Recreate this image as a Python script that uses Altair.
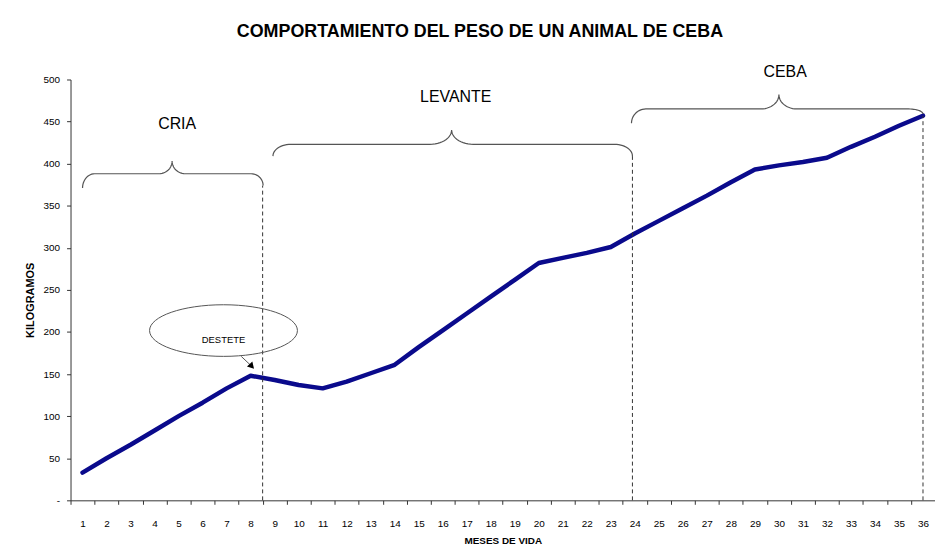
import math
import altair as alt
import pandas as pd

# ---- data ----
months = list(range(1, 37))
weights = [33, 50, 66, 83, 100, 116, 133, 148, 143, 137, 133, 141,
           151, 161, 182, 202, 222, 242, 262, 282, 288, 294, 301, 317,
           332, 347, 362, 378, 393, 398, 402, 407, 420, 432, 445, 457]
y_tick_values = list(range(0, 501, 50))

phase_names = ["CRIA", "LEVANTE", "CEBA"]
phase_start = [1.0, 8.93, 23.86]
phase_end = [8.52, 23.9, 36.0]
phase_peak_x = [4.73, 16.37, 30.0]
phase_base_y = [388, 423, 465]
phase_tip_left = [371, 409, 448]
phase_tip_right = [374, 409, 459]
phase_peak_y = [403, 440, 482]
phase_end_curve = [0.5, 0.75, 0.6]
phase_mid_curve = [0.55, 0.9, 0.75]
phase_label_x = [4.94, 16.54, 30.26]
phase_label_y = [447, 479, 509]

cut_x = [8.5, 23.9, 36.0]
cut_top = [374, 409, 457]

note_text = ["DESTETE"]
note_x = [6.87]
note_y = [201.7]
note_text_y = [191]
arrow_from = [(7.61, 171)]
arrow_to = [(8.02, 160)]

# ---- tables ----
df_line = pd.DataFrame({"mes": months, "kg": weights})


def brace(i):
    x0, x1, xp = phase_start[i], phase_end[i], phase_peak_x[i]
    yb, y0, y1, yp = phase_base_y[i], phase_tip_left[i], phase_tip_right[i], phase_peak_y[i]
    de, dm = phase_end_curve[i], phase_mid_curve[i]
    n = 14
    ts = [k * (math.pi / 2) / (n - 1) for k in range(n)]
    pts = []
    for t in ts:
        pts.append((x0 + de - de * math.cos(t), y0 + (yb - y0) * math.sin(t)))
    for t in ts:
        pts.append((xp - dm + dm * math.sin(t), yp - (yp - yb) * math.cos(t)))
    for t in ts:
        pts.append((xp + dm - dm * math.cos(t), yp - (yp - yb) * math.sin(t)))
    for t in ts:
        pts.append((x1 - de + de * math.sin(t), y1 + (yb - y1) * math.cos(t)))
    return [{"fase": phase_names[i], "ord": k, "bx": p[0], "by": p[1]} for k, p in enumerate(pts)]


rows = []
for i in range(len(phase_names)):
    rows += brace(i)
df_brace = pd.DataFrame(rows)
df_labels = pd.DataFrame({"fase": phase_names, "lx": phase_label_x, "ly": phase_label_y})
df_cut = pd.DataFrame({"cx": cut_x, "ytop": cut_top, "y0": [0] * len(cut_x)})
df_note = pd.DataFrame({"t": note_text, "nx": note_x, "ny": note_y, "ty": note_text_y})
df_arrow = pd.DataFrame({"ax": [a[0] for a in arrow_from], "ay": [a[1] for a in arrow_from],
                         "ax2": [a[0] for a in arrow_to], "ay2": [a[1] for a in arrow_to]})

xs = alt.Scale(domain=[0.5, 36.5], nice=False, zero=False)
ys = alt.Scale(domain=[0, 500], nice=False)

SANS = "Liberation Sans, Arial, sans-serif"

step_px = 871 / 36.0

x_axis = alt.Axis(values=months, tickOffset=-step_px / 2, labelOffset=step_px / 2,
                  tickSize=4, labelPadding=14,
                  labelFont=SANS, labelFontSize=10, labelColor="black",
                  domainColor="#333", tickColor="#333", grid=False,
                  title="MESES DE VIDA", titleFont=SANS, titleFontSize=10,
                  titleFontWeight="bold", titleColor="black", titlePadding=8)
y_axis = alt.Axis(values=y_tick_values, tickSize=4, labelPadding=7,
                  labelFont=SANS, labelFontSize=10, labelColor="black",
                  labelExpr="datum.value == 0 ? '-' : datum.label",
                  domainColor="#333", tickColor="#333", grid=False,
                  title="KILOGRAMOS", titleFont=SANS, titleFontSize=11,
                  titleFontWeight="bold", titleColor="black",
                  titleX=-40, titleY=222, titleAlign="center", titleBaseline="middle",
                  titleAngle=-90)


def X(field):
    return alt.X(field, type="quantitative", scale=xs, axis=x_axis)


def Y(field):
    return alt.Y(field, type="quantitative", scale=ys, axis=y_axis)


line = alt.Chart(df_line).mark_line(color="#0a0a8c", strokeWidth=4.5, strokeCap="round",
                                    strokeJoin="round").encode(
    x=X("mes"),
    y=Y("kg"),
)

cuts = alt.Chart(df_cut).mark_rule(color="#333", strokeWidth=1, strokeDash=[4, 3]).encode(
    x=X("cx"),
    y=Y("y0"),
    y2="ytop:Q",
)

braces = alt.Chart(df_brace).mark_line(color="#555", strokeWidth=1.2).encode(
    x=X("bx"),
    y=Y("by"),
    detail="fase:N",
    order="ord:Q",
)

labels = alt.Chart(df_labels).mark_text(font=SANS, fontSize=16, color="black",
                                        baseline="middle", align="center").encode(
    x=X("lx"),
    y=Y("ly"),
    text="fase:N",
)

ellipse = alt.Chart(df_note).mark_point(
    shape="M -1 0 A 1 0.349 0 1 1 1 0 A 1 0.349 0 1 1 -1 0 Z",
    size=149 * 149, filled=False, stroke="#555", strokeWidth=1, opacity=1,
).encode(
    x=X("nx"),
    y=Y("ny"),
)

note = alt.Chart(df_note).mark_text(font=SANS, fontSize=9.5, color="black",
                                    baseline="middle", align="center").encode(
    x=X("nx"),
    y=Y("ty"),
    text="t:N",
)

shaft = alt.Chart(df_arrow).mark_rule(color="#555", strokeWidth=1).encode(
    x=X("ax"),
    y=Y("ay"),
    x2="ax2:Q",
    y2="ay2:Q",
)

head = alt.Chart(df_arrow).mark_point(shape="triangle", filled=True, color="black",
                                      size=55, angle=137, opacity=1).encode(
    x=X("ax2"),
    y=Y("ay2"),
)

chart = alt.layer(line, cuts, braces, labels, ellipse, note, shaft, head).properties(
    width=871,
    height=424,
    title=alt.TitleParams("COMPORTAMIENTO DEL PESO DE UN ANIMAL DE CEBA",
                          font=SANS, fontSize=18, fontWeight="bold", color="black",
                          anchor="middle", dx=-23, offset=23),
    padding={"left": 63, "top": 70, "right": 0, "bottom": 46},
    autosize=alt.AutoSizeParams(type="none"),
).configure_view(stroke=None)

chart.save("out.html", embed_options={"renderer": "svg", "actions": False})
